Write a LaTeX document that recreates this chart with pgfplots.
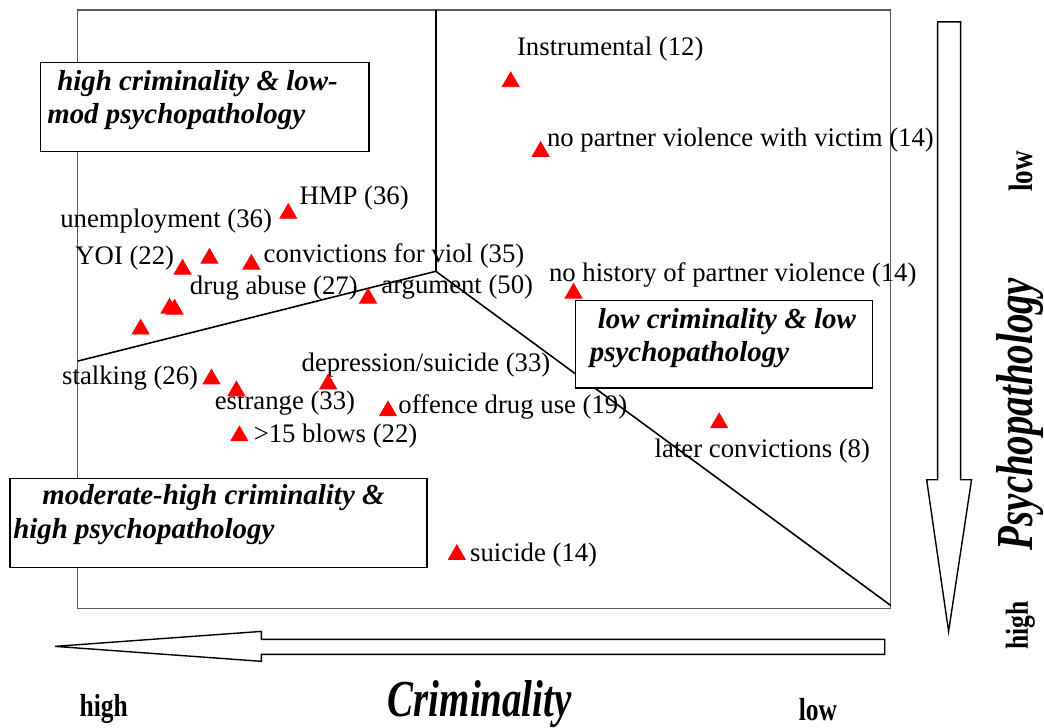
\documentclass[border=0pt]{standalone}
\usepackage{pgfplots}
\pgfplotsset{compat=1.18}
\usepackage{fontspec}
\setmainfont{Liberation Serif}
\usepackage{graphicx}
\pgfplotstableread{
x y
512 82
542 152
289 214
210 259
183 270
252 265
170 309
175 310
141 330
369 299
575 294
212 380
237 392
329 385
389 412
240 437
721 424
458 556
}\pts
\begin{document}
\begin{tikzpicture}
\begin{axis}[
  scale only axis, width=407.5pt, height=300pt,
  xmin=78, xmax=893, ymin=10, ymax=610, y dir=reverse,
  xtick=\empty, ytick=\empty, clip=false,
  axis line style={draw=black!65, line width=0.6pt},
]
\path (axis cs:0,0) rectangle (axis cs:1044,729);
% region lines
\draw[line width=0.8pt] (axis cs:437,10) -- (axis cs:437,272);
\draw[line width=0.8pt] (axis cs:78,362) -- (axis cs:437,272) -- (axis cs:893,607);
\addplot[only marks, mark=triangle*, mark size=4.9pt, color=red] table[x=x,y=y] {\pts};
% labels
\tikzset{lab/.style={anchor=west, inner sep=0pt, font=\fontsize{13.4}{15}\selectfont}}
\node[lab] at (axis cs:518,49) {Instrumental (12)};
\node[lab] at (axis cs:548,140) {no partner violence with victim (14)};
\node[lab] at (axis cs:300,199) {HMP (36)};
\node[lab, anchor=east] at (axis cs:273,222) {unemployment (36)};
\node[lab, anchor=east] at (axis cs:175,259) {YOI (22)};
\node[lab] at (axis cs:264,257) {convictions for viol (35)};
\node[lab] at (axis cs:190,289) {drug abuse (27)};
\node[lab] at (axis cs:382,288) {argument (50)};
\node[lab] at (axis cs:550,276) {no history of partner violence (14)};
\node[lab] at (axis cs:62,379) {stalking (26)};
\node[lab] at (axis cs:302,366) {depression/suicide (33)};
\node[lab] at (axis cs:215,404) {estrange (33)};
\node[lab] at (axis cs:399,408) {offence drug use (19)};
\node[lab] at (axis cs:254,437) {>15 blows (22)};
\node[lab] at (axis cs:656,452) {later convictions (8)};
\node[lab] at (axis cs:471,556) {suicide (14)};
% region boxes
\tikzset{blab/.style={anchor=west, inner sep=0pt, font=\fontsize{14.5}{17}\selectfont\bfseries\itshape}}
\draw[line width=0.6pt, fill=white] (axis cs:41,63) rectangle (axis cs:370,152);
\node[blab] at (axis cs:57,84) {high criminality \& low-};
\node[blab] at (axis cs:47,117) {mod psychopathology};
\draw[line width=0.6pt, fill=white] (axis cs:577,301) rectangle (axis cs:875,389);
\node[blab] at (axis cs:599,322) {low criminality \& low};
\node[blab] at (axis cs:591,355) {psychopathology};
\draw[line width=0.6pt, fill=white] (axis cs:10,480) rectangle (axis cs:428,569);
\node[blab] at (axis cs:42,499) {moderate-high criminality \&};
\node[blab] at (axis cs:13,533) {high psychopathology};
% arrows
\draw[line width=0.7pt, fill=white] (axis cs:887,641) -- (axis cs:262,641) -- (axis cs:262,633) -- (axis cs:55,648) -- (axis cs:262,663) -- (axis cs:262,656) -- (axis cs:887,656) -- cycle;
\draw[line width=0.7pt, fill=white] (axis cs:940,22) -- (axis cs:963,22) -- (axis cs:963,481) -- (axis cs:974,481) -- (axis cs:951,633) -- (axis cs:929,481) -- (axis cs:940,481) -- cycle;
% axis titles
\node[inner sep=0pt] at (axis cs:481,706) {\fontsize{26}{30}\selectfont\bfseries\itshape\scalebox{0.75}[1]{Criminality}};
\node[inner sep=0pt, rotate=90] at (axis cs:1023,415) {\fontsize{26}{30}\selectfont\bfseries\itshape\scalebox{0.75}[1]{Psychopathology}};
\node[inner sep=0pt] at (axis cs:104,711) {\fontsize{16}{18}\selectfont\bfseries\scalebox{0.8}[1]{high}};
\node[inner sep=0pt] at (axis cs:820,711) {\fontsize{16}{18}\selectfont\bfseries\scalebox{0.8}[1]{low}};
\node[inner sep=0pt, rotate=90] at (axis cs:1023,172) {\fontsize{17}{18}\selectfont\bfseries\scalebox{0.8}[1]{low}};
\node[inner sep=0pt, rotate=90] at (axis cs:1023,627) {\fontsize{16}{18}\selectfont\bfseries\scalebox{0.8}[1]{high}};
\end{axis}
\end{tikzpicture}
\end{document}
